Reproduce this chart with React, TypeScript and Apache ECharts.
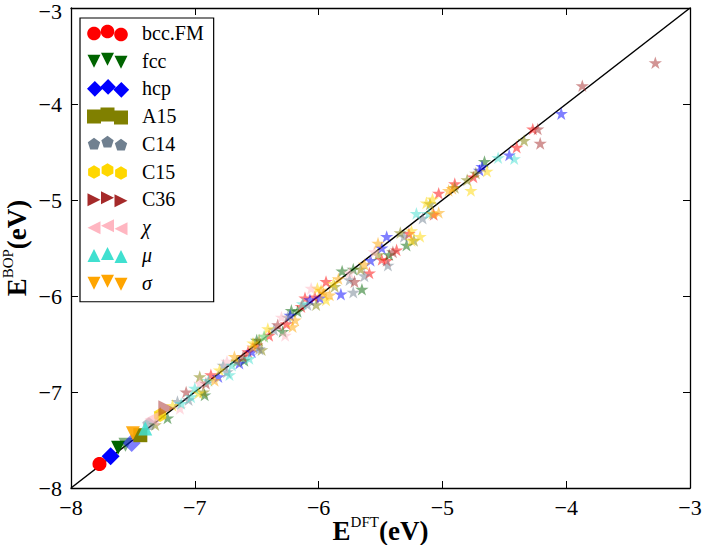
import React, { useEffect, useRef } from "react";
import * as echarts from "echarts";

// Axis range shared by both axes (energies in eV)
const AXIS_MIN = -8;
const AXIS_MAX = -3;
const TICK_STEP = 1;

const structures = ["bcc.FM", "fcc", "hcp", "A15", "C14", "C15", "C36", "χ", "μ", "σ"];

// Ground-state reference points, drawn with the structure's own marker
const bccRefs = [[-7.77, -7.75]];
const fccRefs = [[-7.62, -7.58]];
const hcpRefs = [[-7.68, -7.67]];
const a15Refs = [[-7.44, -7.45]];
const c14Refs = [[-7.37, -7.33]];
const c15Refs = [[-7.28, -7.24]];
const c36Refs = [[-7.23, -7.17]];
const chiRefs = [[-7.35, -7.28]];
const muRefs = [[-7.40, -7.38]];
const sigmaRefs = [[-7.50, -7.43]];

// Secondary (faint) reference points
const fccAltRefs = [[-7.56, -7.55]];
const hcpAltRefs = [[-7.51, -7.53]];

// DFT vs BOP energies of the remaining configurations (stars)
const bccStars = [
  [-4.27, -4.26], [-4.40, -4.45], [-4.75, -4.76], [-4.90, -4.83], [-5.03, -4.93],
  [-5.07, -5.15], [-5.27, -5.35], [-5.49, -5.62], [-5.45, -5.63], [-5.59, -5.76],
  [-5.94, -5.85], [-6.03, -6.01], [-6.11, -6.02], [-6.14, -6.11], [-6.26, -6.29],
  [-6.40, -6.41], [-6.57, -6.58], [-6.87, -6.82], [-5.37, -5.52], [-6.50, -6.51],
];
const fccStars = [
  [-4.66, -4.60], [-5.29, -5.47], [-5.43, -5.57], [-5.72, -5.72], [-5.81, -5.74],
  [-5.65, -5.93], [-6.17, -6.16], [-6.22, -6.15], [-6.29, -6.37], [-6.60, -6.67],
  [-6.92, -7.03], [-7.22, -7.27], [-6.50, -6.46],
];
const hcpStars = [
  [-4.04, -4.10], [-4.46, -4.53], [-4.68, -4.65], [-5.45, -5.38], [-5.49, -5.50],
  [-5.58, -5.63], [-5.82, -5.98], [-5.99, -6.02], [-6.07, -6.04], [-6.23, -6.20],
  [-6.64, -6.70], [-6.81, -6.84], [-6.54, -6.58], [-4.70, -4.69],
];
const a15Stars = [
  [-4.34, -4.38], [-4.73, -4.72], [-4.80, -4.79], [-4.90, -4.87], [-5.10, -5.04],
  [-5.34, -5.34], [-5.23, -5.42], [-5.66, -5.72], [-5.87, -5.90], [-6.02, -6.09],
  [-6.48, -6.46], [-6.46, -6.56], [-6.66, -6.68], [-6.93, -7.00], [-7.32, -7.34],
  [-5.52, -5.57], [-6.96, -6.84], [-7.28, -7.22],
];
const c14Stars = [
  [-5.16, -5.19], [-5.44, -5.68], [-5.63, -5.79], [-5.75, -5.83], [-5.72, -5.96],
  [-6.09, -6.09], [-6.36, -6.35], [-6.48, -6.55], [-6.77, -6.72], [-6.74, -6.79],
  [-7.05, -7.08], [-6.25, -6.22], [-7.14, -7.10], [-5.31, -5.38],
];
const c15Stars = [
  [-4.64, -4.70], [-4.77, -4.90], [-5.08, -4.99], [-5.25, -5.32], [-5.18, -5.38],
  [-6.01, -5.92], [-6.41, -6.34], [-6.53, -6.49], [-6.44, -6.42], [-6.97, -7.01],
  [-5.88, -5.87], [-5.94, -6.04], [-6.80, -6.77], [-7.18, -7.14], [-5.13, -5.03],
  [-5.25, -5.42],
];
const c36Stars = [
  [-3.28, -3.57], [-3.87, -3.81], [-4.23, -4.26], [-4.21, -4.41], [-5.40, -5.54],
  [-5.71, -5.85], [-6.61, -6.63], [-6.91, -6.91], [-6.33, -6.30], [-7.07, -7.00],
];
const chiStars = [
  [-6.30, -6.22], [-6.96, -6.91], [-7.12, -7.17], [-5.55, -5.54], [-5.75, -5.76],
  [-6.06, -5.92], [-6.27, -6.41], [-6.74, -6.68],
];
const muStars = [
  [-4.42, -4.57], [-4.55, -4.56], [-5.11, -5.14], [-5.21, -5.14], [-6.70, -6.72],
  [-6.72, -6.82], [-6.89, -6.88], [-7.03, -7.05], [-7.11, -7.12], [-6.13, -6.08],
  [-6.44, -6.42], [-6.56, -6.65], [-7.00, -6.96],
];
const sigmaStars = [
  [-4.95, -4.90], [-5.03, -5.13], [-5.52, -5.45], [-5.63, -5.67], [-5.91, -5.99],
  [-5.96, -5.97], [-6.19, -6.25], [-6.53, -6.53], [-6.84, -6.88], [-5.84, -5.82],
  [-5.98, -5.94], [-6.21, -6.32], [-6.68, -6.63], [-5.08, -5.14], [-4.92, -4.88],
];

const starsByStructure = [
  bccStars, fccStars, hcpStars, a15Stars, c14Stars,
  c15Stars, c36Stars, chiStars, muStars, sigmaStars,
];
const refsByStructure = [
  bccRefs, fccRefs, hcpRefs, a15Refs, c14Refs,
  c15Refs, c36Refs, chiRefs, muRefs, sigmaRefs,
];
const altRefsByStructure = [[], fccAltRefs, hcpAltRefs, [], [], [], [], [], [], []];

// ---- marker geometry ----
type Pt = [number, number];
const regular = (n: number, startDeg: number, r = 1): Pt[] =>
  Array.from({ length: n }, (_, k) => {
    const a = ((startDeg + (k * 360) / n) * Math.PI) / 180;
    return [r * Math.cos(a), -r * Math.sin(a)] as Pt;
  });
const starPts: Pt[] = Array.from({ length: 10 }, (_, k) => {
  const a = ((90 + k * 36) * Math.PI) / 180;
  const r = k % 2 === 0 ? 1 : 0.382;
  return [r * Math.cos(a), -r * Math.sin(a)] as Pt;
});
const SHAPES: Record<string, Pt[]> = {
  circle: regular(40, 90),
  triDown: [[-1, -1], [1, -1], [0, 1]],
  triUp: [[0, -1], [1, 1], [-1, 1]],
  triLeft: [[-1, 0], [1, -1], [1, 1]],
  triRight: [[1, 0], [-1, -1], [-1, 1]],
  diamond: [[0, -1], [1, 0], [0, 1], [-1, 0]],
  square: [[-1, -1], [1, -1], [1, 1], [-1, 1]],
  pentagon: regular(5, 90),
  hexagon: regular(6, 90),
  star: starPts,
};

const polyPath = (pts: Pt[], cx: number, cy: number, r: number) =>
  pts
    .map(([x, y], i) => `${i === 0 ? "M" : "L"}${(cx + x * r).toFixed(2)} ${(cy + y * r).toFixed(2)}`)
    .join("") + "Z";

const bbox = (pts: Pt[]) => {
  const xs = pts.map((p) => p[0]);
  const ys = pts.map((p) => p[1]);
  return [Math.max(...xs) - Math.min(...xs), Math.max(...ys) - Math.min(...ys)];
};

const markerSymbol = (shape: string) => "path://" + polyPath(SHAPES[shape], 0, 0, 50);
const markerSize = (shape: string, size: number) => {
  const [w, h] = bbox(SHAPES[shape]);
  return [(size / 2) * w, (size / 2) * h];
};

// Legend icon: three markers side by side, as in a scatter legend
const ICON_W = 50;
const ICON_H = 24;
const ICON_CENTERS: Pt[] = [[7, 12.5], [20.5, 10.5], [34, 13.5]];
const legendIcon = (shape: string, r: number) => {
  let d = `M0 0M${ICON_W} ${ICON_H}`;
  for (const [cx, cy] of ICON_CENTERS) d += polyPath(SHAPES[shape], cx, cy, r);
  return "path://" + d;
};

const STYLE: Record<string, { color: string; shape: string; refSize: number; iconR: number; refAlpha: number }> = {
  "bcc.FM": { color: "#ff0000", shape: "circle", refSize: 14, iconR: 6.8, refAlpha: 1 },
  fcc: { color: "#006400", shape: "triDown", refSize: 14, iconR: 6.5, refAlpha: 1 },
  hcp: { color: "#0000ff", shape: "diamond", refSize: 18, iconR: 8, refAlpha: 1 },
  A15: { color: "#808000", shape: "square", refSize: 14, iconR: 7, refAlpha: 1 },
  C14: { color: "#708090", shape: "pentagon", refSize: 14, iconR: 6.5, refAlpha: 0.5 },
  C15: { color: "#ffd700", shape: "hexagon", refSize: 14, iconR: 6.8, refAlpha: 0.8 },
  C36: { color: "#a52a2a", shape: "triRight", refSize: 16, iconR: 6.5, refAlpha: 0.5 },
  "χ": { color: "#ffb6c1", shape: "triLeft", refSize: 14, iconR: 6.5, refAlpha: 0.6 },
  "μ": { color: "#40e0d0", shape: "triUp", refSize: 14, iconR: 6.5, refAlpha: 0.85 },
  "σ": { color: "#ffa500", shape: "triDown", refSize: 14, iconR: 6.5, refAlpha: 0.9 },
};

const STAR_SYMBOL = markerSymbol("star");
const STAR_SIZE = markerSize("star", 14);
const STAR_ALPHA = 0.5;

const SERIF = "'Liberation Serif', 'DejaVu Serif', serif";
const minus = (v: number) => (v < 0 ? "\u2212" + Math.abs(v) : String(v));
// The top y label is nudged down a little so it stays on the canvas
const yTickFmt = (v: number) => (v === AXIS_MAX ? `{top|${minus(v)}}` : minus(v));
const tickRich = { top: { fontFamily: SERIF, fontSize: 22, color: "#000", padding: [6, 0, 0, 0] } };

const nameRich = {
  b: { fontFamily: SERIF, fontWeight: "bold", fontSize: 27, color: "#000", height: 22, verticalAlign: "bottom" },
  s: { fontFamily: SERIF, fontSize: 15, color: "#000", height: 12, verticalAlign: "top", padding: [0, 0, 14, 0] },
};

const frameLine = { show: true, onZero: false, lineStyle: { color: "#000", width: 1.3 } };
const innerTick = { show: true, inside: true, length: 7, lineStyle: { color: "#000", width: 1 } };

export default function App() {
  const ref = useRef<HTMLDivElement>(null);

  useEffect(() => {
    if (!ref.current) return;
    const chart = echarts.init(ref.current, undefined, { renderer: "svg" });

    const scatterSeries = structures.map((name, i) => {
      const st = STYLE[name];
      const sym = markerSymbol(st.shape);
      const size = markerSize(st.shape, st.refSize);
      const stars = starsByStructure[i].map((p) => ({
        value: p,
        symbol: STAR_SYMBOL,
        symbolSize: STAR_SIZE,
        itemStyle: { opacity: STAR_ALPHA },
      }));
      const alts = altRefsByStructure[i].map((p) => ({
        value: p,
        symbol: sym,
        symbolSize: size,
        itemStyle: { opacity: 0.5 },
      }));
      const refs = refsByStructure[i].map((p) => ({
        value: p,
        symbol: sym,
        symbolSize: size,
        itemStyle: { opacity: st.refAlpha },
      }));
      return {
        name,
        type: "scatter",
        symbol: sym,
        symbolSize: size,
        itemStyle: { color: st.color, opacity: 1 },
        emphasis: { disabled: true },
        data: [...stars, ...alts, ...refs],
        z: 3,
      };
    });

    chart.setOption({
      animation: false,
      backgroundColor: "#fff",
      grid: { left: 71, right: 13, top: 8, bottom: 57, containLabel: false, outerBoundsMode: "none" },
      xAxis: [
        {
          type: "value",
          min: AXIS_MIN,
          max: AXIS_MAX,
          interval: TICK_STEP,
          position: "bottom",
          axisLine: frameLine,
          axisTick: innerTick,
          splitLine: { show: false },
          axisLabel: { formatter: minus, fontFamily: SERIF, fontSize: 22, color: "#000", margin: 8 },
          name: "{b|E}{s|DFT}{b|(eV)}",
          nameLocation: "middle",
          nameGap: 28,
          nameMoveOverlap: false,
          nameTextStyle: { rich: nameRich },
        },
        {
          type: "value",
          min: AXIS_MIN,
          max: AXIS_MAX,
          interval: TICK_STEP,
          position: "top",
          axisLine: frameLine,
          axisTick: innerTick,
          splitLine: { show: false },
          axisLabel: { show: false },
        },
      ],
      yAxis: [
        {
          type: "value",
          min: AXIS_MIN,
          max: AXIS_MAX,
          interval: TICK_STEP,
          position: "left",
          axisLine: frameLine,
          axisTick: innerTick,
          splitLine: { show: false },
          axisLabel: { formatter: yTickFmt, fontFamily: SERIF, fontSize: 22, color: "#000", margin: 9, rich: tickRich },
          name: "{b|E}{s|BOP}{b|(eV)}",
          nameLocation: "middle",
          nameRotate: 90,
          nameGap: 43,
          nameMoveOverlap: false,
          nameTextStyle: { rich: nameRich },
        },
        {
          type: "value",
          min: AXIS_MIN,
          max: AXIS_MAX,
          interval: TICK_STEP,
          position: "right",
          axisLine: frameLine,
          axisTick: innerTick,
          splitLine: { show: false },
          axisLabel: { show: false },
        },
      ],
      legend: {
        orient: "vertical",
        left: 80,
        top: 18,
        padding: [3, 10, 7, 7],
        itemWidth: ICON_W,
        itemHeight: ICON_H,
        itemGap: 3.8,
        borderColor: "#000",
        borderWidth: 1.2,
        borderRadius: 0,
        backgroundColor: "#fff",
        selectedMode: false,
        data: structures.map((name) => ({ name, icon: legendIcon(STYLE[name].shape, STYLE[name].iconR) })),
        formatter: (name: string) => (["χ", "μ", "σ"].includes(name) ? `{i|${name}}` : name),
        textStyle: {
          fontFamily: SERIF,
          fontSize: 20,
          lineHeight: 20,
          color: "#000",
          rich: { i: { fontFamily: SERIF, fontSize: 20, fontStyle: "italic", color: "#000" } },
        },
      },
      series: [
        {
          name: "parity",
          type: "line",
          data: [
            [AXIS_MIN, AXIS_MIN],
            [AXIS_MAX, AXIS_MAX],
          ],
          symbol: "none",
          silent: true,
          lineStyle: { color: "#000", width: 1.5 },
          z: 2,
        },
        ...scatterSeries,
      ],
    });

    return () => chart.dispose();
  }, []);

  return (
    <div
      ref={ref}
      style={{ position: "fixed", left: 0, top: 0, width: 703, height: 545, background: "#fff" }}
    />
  );
}
